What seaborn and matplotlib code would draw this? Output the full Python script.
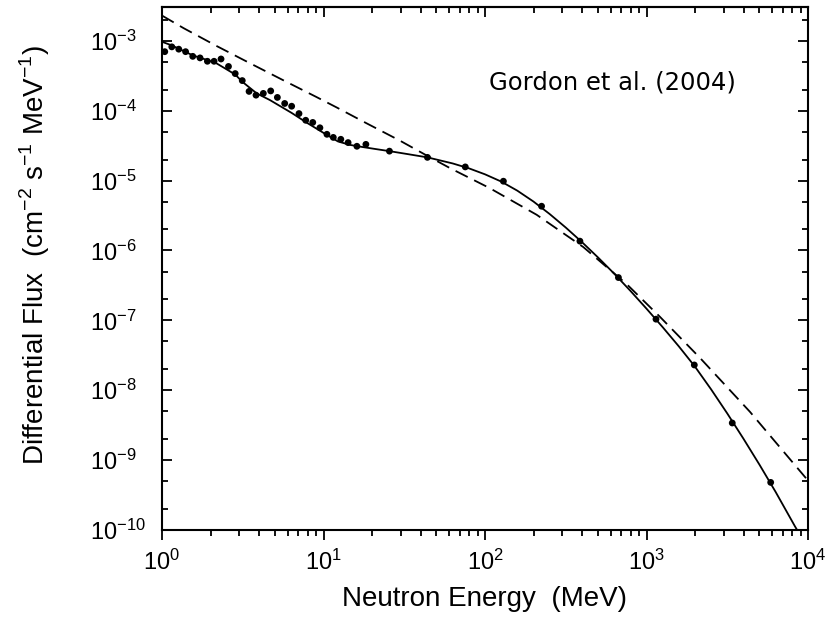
import numpy as np
import pandas as pd
import seaborn as sns
import matplotlib
matplotlib.use("Agg")
import matplotlib.pyplot as plt
import matplotlib.ticker as tkr

# measured spectrum (dots), MeV vs flux
dot_energy = [1.04, 1.15, 1.27, 1.40, 1.55, 1.72, 1.91, 2.10, 2.32, 2.58,
              2.84, 3.14, 3.46, 3.82, 4.24, 4.71, 5.18, 5.75, 6.35, 7.05,
              7.76, 8.58, 9.5, 10.5, 11.5, 12.8, 14.2, 16.1, 18.3, 25.6,
              44, 75.5, 130, 224, 387, 670, 1145, 1977, 3396, 5875]
dot_flux = [7.0e-4, 8.2e-4, 7.6e-4, 7.0e-4, 6.0e-4, 5.7e-4, 5.1e-4, 5.1e-4, 5.5e-4, 4.3e-4,
            3.4e-4, 2.7e-4, 1.89e-4, 1.67e-4, 1.77e-4, 1.92e-4, 1.55e-4, 1.27e-4, 1.16e-4, 9.1e-5,
            7.3e-5, 6.8e-5, 5.7e-5, 4.6e-5, 4.15e-5, 3.9e-5, 3.5e-5, 3.1e-5, 3.3e-5, 2.64e-5,
            2.15e-5, 1.57e-5, 9.8e-6, 4.3e-6, 1.36e-6, 4.1e-7, 1.04e-7, 2.3e-8, 3.4e-9, 4.8e-10]

# fitted curve (solid)
fit_energy = [1.0, 1.15, 1.55, 1.91, 2.18, 2.84, 3.14, 3.86, 4.66, 6.35,
              7.86, 10.5, 12.3, 14.6, 17.5, 21, 25.6, 33, 44, 63.1,
              79.4, 100, 125.9, 158.5, 199.5, 251.2, 316.2, 398.1, 501.2, 631,
              794.3, 1000, 1259, 1585, 1995, 2512, 3162, 3981, 5012, 6310,
              8318, 8610]
fit_flux = [9.7e-4, 8.6e-4, 6.2e-4, 5.3e-4, 4.75e-4, 3.3e-4, 2.6e-4, 1.77e-4, 1.42e-4, 9.3e-5,
            6.76e-5, 4.5e-5, 3.63e-5, 3.24e-5, 3.02e-5, 2.83e-5, 2.64e-5, 2.4e-5, 2.15e-5, 1.76e-5,
            1.50e-5, 1.23e-5, 9.7e-6, 7.18e-6, 5.02e-6, 3.33e-6, 2.13e-6, 1.32e-6, 7.94e-7, 4.66e-7,
            2.65e-7, 1.47e-7, 8.0e-8, 4.25e-8, 2.18e-8, 1.03e-8, 4.66e-9, 2.03e-9, 8.57e-10, 3.49e-10,
            1.12e-10, 9.8e-11]

# comparison model (dashed)
model_energy = [1.0, 1.36, 2.18, 3.5, 5.6, 9.0, 12.1, 18.5, 29.8, 43.5,
                60.7, 107, 209, 406, 754, 1213, 2145, 4375, 10000]
model_flux = [2.3e-3, 1.52e-3, 8.43e-4, 4.79e-4, 2.75e-4, 1.58e-4, 1.11e-4, 6.6e-5, 3.72e-5, 2.29e-5,
              1.51e-5, 7.8e-6, 3.24e-6, 1.12e-6, 3.3e-7, 1.12e-7, 2.9e-8, 4.9e-9, 5.1e-10]

dots = pd.DataFrame({"energy": dot_energy, "flux": dot_flux})
fit = pd.DataFrame({"energy": fit_energy, "flux": fit_flux})
model = pd.DataFrame({"energy": model_energy, "flux": model_flux})

sns.set_style("ticks")
plt.rcParams["font.family"] = ["Liberation Sans", "DejaVu Sans"]
plt.rcParams["text.color"] = "black"
plt.rcParams["axes.labelcolor"] = "black"

fig = plt.figure(figsize=(8.4, 6.2), dpi=100)
ax = fig.add_axes([162 / 840, 90 / 620, 646 / 840, 523 / 620])
ax.set(xscale="log", yscale="log")

sns.lineplot(x="energy", y="flux", data=model, ax=ax, color="black", lw=1.3,
             estimator=None, sort=False)
ax.lines[-1].set_linestyle((0, (7.5, 4)))
sns.lineplot(x="energy", y="flux", data=fit, ax=ax, color="black", lw=1.3,
             estimator=None, sort=False)
sns.scatterplot(x="energy", y="flux", data=dots, ax=ax, color="black",
                s=24, edgecolor="none", zorder=3)

ax.set_xlim(1, 1e4)
ax.set_ylim(1e-10, 3.05e-3)

ax.yaxis.set_major_locator(tkr.LogLocator(base=10, numticks=20))
ax.yaxis.set_minor_locator(tkr.LogLocator(base=10, subs=(2.0, 5.0), numticks=20))
ax.yaxis.set_minor_formatter(tkr.NullFormatter())
ax.xaxis.set_major_locator(tkr.LogLocator(base=10, numticks=20))
ax.xaxis.set_minor_locator(tkr.LogLocator(base=10, subs=np.arange(2, 10), numticks=20))
ax.xaxis.set_minor_formatter(tkr.NullFormatter())

ax.set_yticks([10.0 ** k for k in range(-10, -2)])

for sp in ax.spines.values():
    sp.set_linewidth(1.5)
    sp.set_color("black")

ax.tick_params(axis="x", which="both", direction="out", top=False, labelsize=17,
               pad=7, colors="black", width=1.3)
ax.tick_params(axis="y", which="both", direction="in", right=True, labelsize=17,
               colors="black", width=1.3, pad=52)
ax.tick_params(which="major", length=7)
ax.tick_params(which="minor", length=4)
for lab in ax.get_yticklabels():
    lab.set_horizontalalignment("left")

# top axis: ticks pointing inward, no labels
top = ax.secondary_xaxis("top")
top.set_xscale("log")
top.tick_params(which="both", direction="in", labeltop=False, width=1.3, colors="black")
top.tick_params(which="major", length=7)
top.tick_params(which="minor", length=4)
top.xaxis.set_minor_locator(tkr.LogLocator(base=10, subs=np.arange(2, 10), numticks=20))
top.spines["top"].set_linewidth(1.5)

ax.set_xlabel("Neutron Energy  (MeV)", fontsize=20)
ax.set_ylabel(r"Differential Flux  (cm$^{\mathdefault{-2}}$ s$^{\mathdefault{-1}}$ MeV$^{\mathdefault{-1}}$)",
              fontsize=20)
ax.xaxis.set_label_coords(0.5, -0.108)
ax.yaxis.set_label_coords(-0.17, 0.526)

ax.text(0.697, 0.855, "Gordon et al. (2004)", transform=ax.transAxes,
        ha="center", va="center", fontsize=17.5, family="DejaVu Sans")

fig.savefig("out.png", dpi=100, facecolor="white")
